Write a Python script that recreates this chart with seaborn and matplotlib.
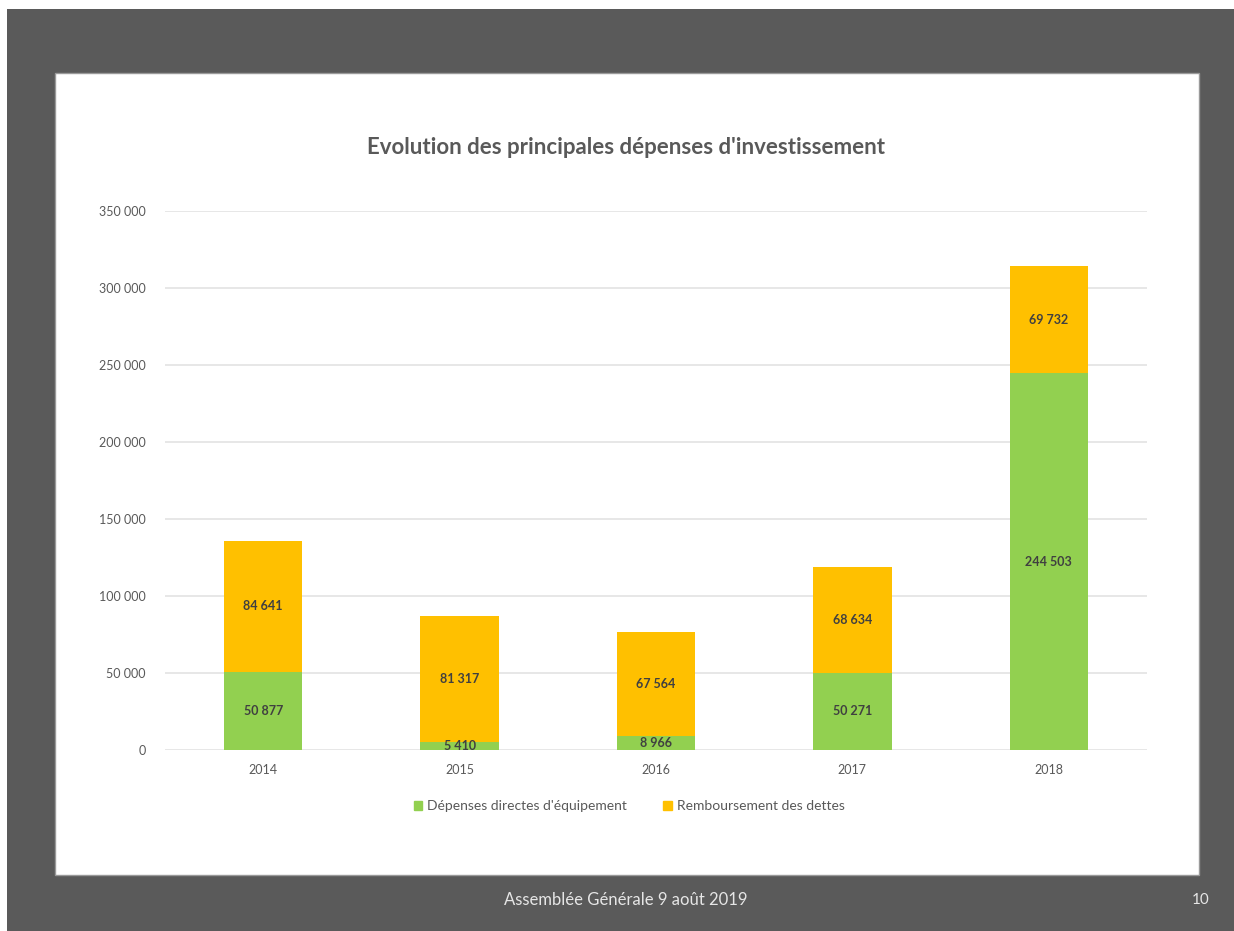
import matplotlib
matplotlib.use("Agg")
import matplotlib.pyplot as plt
import matplotlib.patches as mpatches
import matplotlib.ticker as ticker
import seaborn as sns
import pandas as pd
import numpy as np

# data
years = ["2014", "2015", "2016", "2017", "2018"]
equipement = [50877, 5410, 8966, 50271, 244503]
dettes = [84641, 81317, 67564, 68634, 69732]
y_ticks = [0, 50000, 100000, 150000, 200000, 250000, 300000, 350000]

GREEN = "#92D050"
ORANGE = "#FFC000"
GREY_TXT = "#595959"
DARK_TXT = "#404040"

df = pd.DataFrame({"year": years, "equipement": equipement, "dettes": dettes})
df["total"] = df["equipement"] + df["dettes"]

sns.set_theme(style="white")
plt.rcParams["font.family"] = ["Lato", "DejaVu Sans"]

fig = plt.figure(figsize=(12.34, 9.31), dpi=100)
fig.patch.set_facecolor("white")

# dark slide background + white chart panel (behind the axes)
bg = mpatches.Rectangle((0.0057, 0), 1 - 0.0057, 0.9903, transform=fig.transFigure,
                        facecolor="#5a5a5a", edgecolor="none", zorder=-3)
fig.patches.append(bg)
panel = mpatches.Rectangle((0.0446, 0.0601), 0.927, 0.8614, transform=fig.transFigure,
                           facecolor="white", edgecolor="#9a9a9a", linewidth=1, zorder=-2)
fig.patches.append(panel)

ax = fig.add_axes([0.1337, 0.1944, 0.7958, 0.579])
ax.set_facecolor("none")

# stacked bars: totals in orange, equipment on top in green
sns.barplot(data=df, x="year", y="total", color=ORANGE, width=0.4,
            saturation=1, linewidth=0, ax=ax, zorder=3)
sns.barplot(data=df, x="year", y="equipement", color=GREEN, width=0.4,
            saturation=1, linewidth=0, ax=ax, zorder=4)

def fmt(v):
    return f"{v:,.0f}".replace(",", " ")

for i, row in df.iterrows():
    ax.text(i, row["equipement"] / 2, fmt(row["equipement"]), ha="center", va="center",
            fontsize=9, fontweight="bold", color=DARK_TXT, zorder=5)
    ax.text(i, row["equipement"] + row["dettes"] / 2, fmt(row["dettes"]), ha="center",
            va="center", fontsize=9, fontweight="bold", color=DARK_TXT, zorder=5)

ax.set_ylim(0, 350000)
ax.set_yticks(y_ticks)
ax.yaxis.set_major_formatter(ticker.FuncFormatter(lambda v, p: fmt(v)))
ax.grid(axis="y", color="#e3e3e3", linewidth=1.2, zorder=0)
ax.set_axisbelow(True)
for s in ax.spines.values():
    s.set_visible(False)
ax.tick_params(axis="both", length=0, labelsize=9, labelcolor=GREY_TXT)
ax.tick_params(axis="y", pad=14)
ax.tick_params(axis="x", pad=10)
ax.set_xlabel("")
ax.set_ylabel("")

fig.text(0.507, 0.842, "Evolution des principales dépenses d'investissement",
         ha="center", va="center", fontsize=16, fontweight="bold", color=GREY_TXT)

handles = [mpatches.Patch(color=GREEN, label="Dépenses directes d'équipement"),
           mpatches.Patch(color=ORANGE, label="Remboursement des dettes")]
fig.legend(handles=handles, loc="center", bbox_to_anchor=(0.51, 0.134), ncol=2,
           frameon=False, fontsize=10, handlelength=0.6, handleheight=0.6,
           handletextpad=0.4, columnspacing=2.6, labelcolor=GREY_TXT)

fig.text(0.507, 0.033, "Assemblée Générale 9 août 2019", ha="center", va="center",
         fontsize=12, color="#e6e6e6")
fig.text(0.973, 0.033, "10", ha="center", va="center", fontsize=11, color="#e6e6e6")

fig.savefig("out.png", dpi=100)
